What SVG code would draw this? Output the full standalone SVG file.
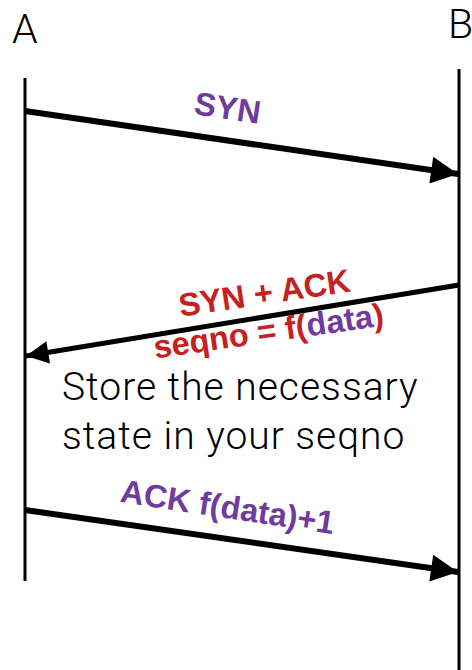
<svg xmlns="http://www.w3.org/2000/svg" width="472" height="670" viewBox="0 0 472 670">
  <style>
    .life { stroke: #000; stroke-width: 3; fill: none; }
    .msg { stroke: #000; fill: none; marker-end: url(#head); }
    .thick { stroke-width: 6; }
    .thin { stroke-width: 5; }
    .host { font-family: Roboto, "Liberation Sans", sans-serif; font-weight: 300; font-size: 41px; fill: #000; }
    .note { font-family: Roboto, "Liberation Sans", sans-serif; font-weight: 300; font-size: 39px; letter-spacing: 1px; fill: #000; }
    .lbl { font-family: "Liberation Sans", Arial, sans-serif; font-weight: bold; font-size: 32.5px; text-anchor: middle; }
    .purple { fill: #6f3c9e; }
    .red { fill: #c62020; }
  </style>
  <defs>
    <marker id="head" viewBox="0 0 10 10" refX="10" refY="5" markerWidth="4.8" markerHeight="4.5" orient="auto" markerUnits="strokeWidth">
      <path d="M0,0 L10,5 L0,10 Z" fill="#000"/>
    </marker>
  </defs>

  <!-- hosts and their timelines -->
  <g id="host-a">
    <text class="host" x="12" y="43">A</text>
    <line class="life" x1="25" y1="78" x2="25" y2="581"/>
  </g>
  <g id="host-b">
    <text class="host" x="448" y="38">B</text>
    <line class="life" x1="459" y1="69" x2="459" y2="670"/>
  </g>

  <!-- handshake messages -->
  <g id="connectors">
    <line class="msg thick" x1="25" y1="111" x2="458" y2="174"/>
    <line class="msg thin" x1="459" y1="285" x2="26" y2="356"/>
    <line class="msg thick" x1="25" y1="510" x2="458" y2="572"/>
  </g>

  <g id="label-syn">
    <text class="lbl purple" transform="translate(226,119) rotate(8.4)">SYN</text>
  </g>
  <g id="label-synack">
    <text class="lbl red" transform="translate(266,304) rotate(-8.5)">SYN + ACK</text>
    <text class="lbl red" transform="translate(270,342) rotate(-8.2)">seqno = f(<tspan class="purple">data</tspan>)</text>
  </g>
  <g id="label-ack">
    <text class="lbl purple" transform="translate(226,518) rotate(8.6)">ACK f(data)+1</text>
  </g>

  <g id="note">
    <text class="note" x="62" y="400">Store the necessary</text>
    <text class="note" x="62" y="449">state in your seqno</text>
  </g>
</svg>
